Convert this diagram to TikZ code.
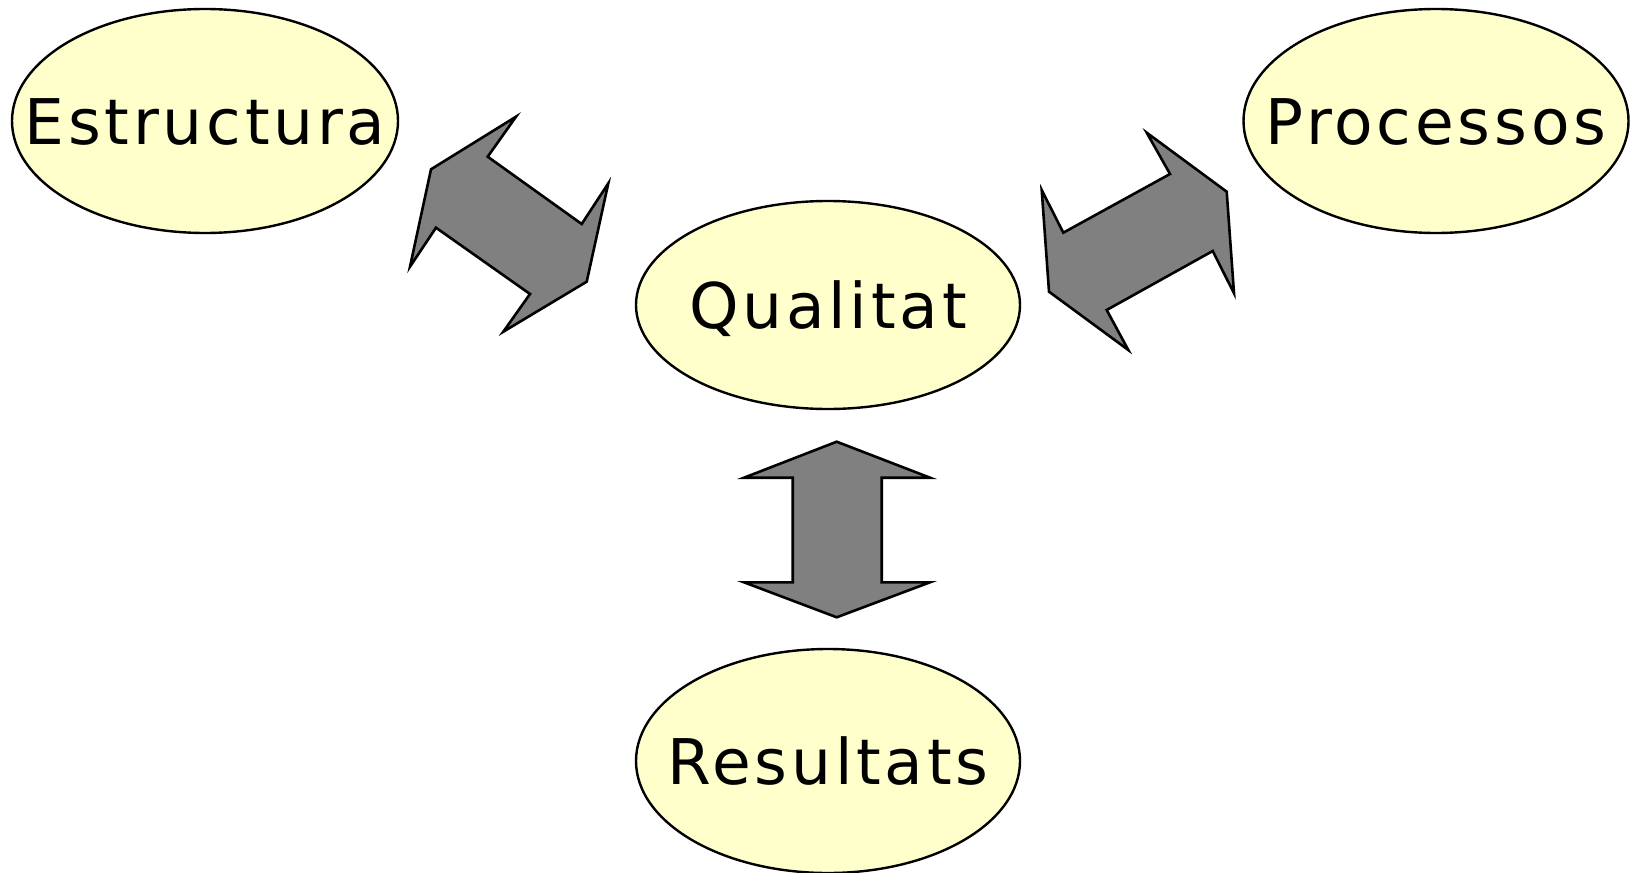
\documentclass[tikz,border=0pt]{standalone}
\usepackage{fontspec}
\setmainfont{DejaVu Sans}[LetterSpace=6]
\usetikzlibrary{shapes.geometric}
\definecolor{bubble}{HTML}{FFFFCC}
\definecolor{arrowgray}{HTML}{808080}
\begin{document}
\begin{tikzpicture}[x=0.5pt,y=-0.5pt,
  bubble/.style={ellipse, draw=black, line width=1.2pt, fill=bubble, inner sep=0pt, outer sep=0pt},
  bubbletext/.style={inner sep=0pt, font=\fontsize{31.5pt}{36pt}\selectfont, text height=23pt, text depth=0pt},
  bigarrow/.style={draw=black, line width=1.3pt, fill=arrowgray, line join=miter}]
\useasboundingbox (0,0) rectangle (1636,872);
\node[bubble, minimum width=193pt, minimum height=112pt] (estr) at (205,121) {};
\node[bubbletext] (estrt) at (estr.center) {Estructura};
\node[bubble, minimum width=192.5pt, minimum height=112pt] (proc) at (1436,121) {};
\node[bubbletext] (proct) at (proc.center) {Processos};
\node[bubble, minimum width=192pt, minimum height=104pt] (qual) at (828,305) {};
\node[bubbletext] (qualt) at (qual.center) {Qualitat};
\node[bubble, minimum width=192pt, minimum height=112pt] (res) at (828,761) {};
\node[bubbletext] (rest) at (res.center) {Resultats};
% left double arrow
\draw[bigarrow] (516,116.7) -- (487.7,156.7) -- (581.7,224) -- (608.3,183.3) -- (586.7,281.7)
  -- (503.3,331.7) -- (530,294) -- (436,227.7) -- (410,266.7) -- (431,169.3) -- cycle;
% right double arrow
\draw[bigarrow] (1146.7,132.7) -- (1226.7,191.7) -- (1234,293.3) -- (1212.7,251) -- (1106.7,310)
  -- (1128.3,350) -- (1049,291.7) -- (1041.7,190) -- (1063.3,232.7) -- (1170,174) -- cycle;
% vertical double arrow
\draw[bigarrow] (836.7,441.7) -- (930,477.7) -- (881.7,477.7) -- (881.7,582.3) -- (930,582.3)
  -- (836.7,617.3) -- (744,582.3) -- (792.7,582.3) -- (792.7,477.7) -- (744,477.7) -- cycle;
\end{tikzpicture}
\end{document}
